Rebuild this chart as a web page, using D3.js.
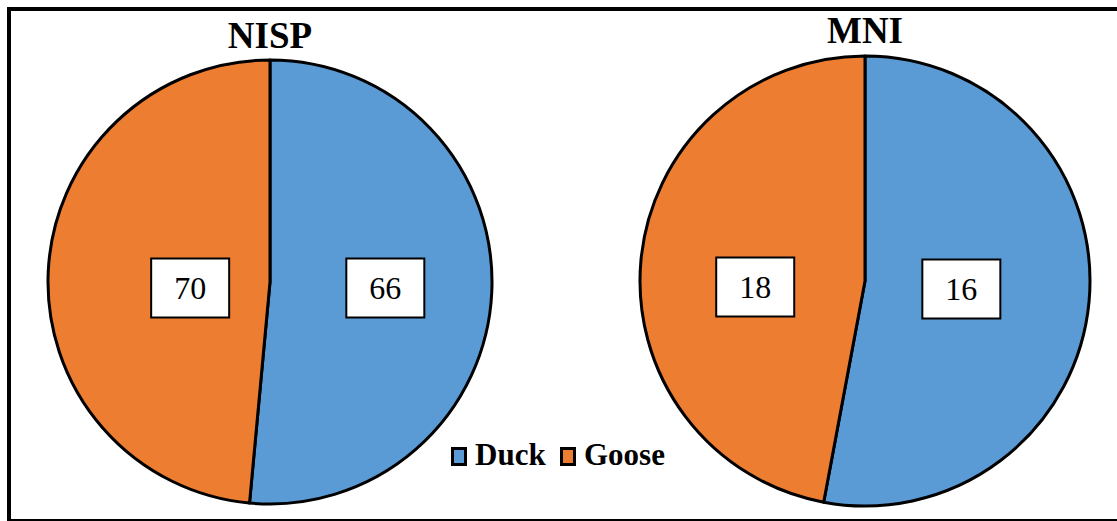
<!DOCTYPE html>
<html>
<head>
<meta charset="utf-8">
<script src="https://cdn.jsdelivr.net/npm/d3@7"></script>
<style>
  body { margin: 0; background: #fff; }
  svg { display: block; }
  svg text { font-family: "Liberation Serif", Tinos, "Times New Roman", Times, serif; }
</style>
</head>
<body>
<svg id="chart" width="1117" height="521"></svg>
<script>
// data
let species = ["Duck", "Goose"];
let nispValues = [66, 70];
let mniValues = [16, 18];
let chartTitles = ["NISP", "MNI"];

let colors = ["#5B9BD5", "#ED7D31"];

let svg = d3.select("#chart");

// outer frame (its bottom and right edges run off the picture)
svg.append("rect")
    .attr("x", 9).attr("y", 9)
    .attr("width", 1120).attr("height", 512)
    .attr("fill", "none")
    .attr("stroke", "#000")
    .attr("stroke-width", 4);

// layout of the two pies
let pies = [
    { title: chartTitles[0], values: nispValues, cx: 270, cy: 282, r: 222, titleY: 48, labelR: [0.52, 0.36], labelDy: [6, 6] },
    { title: chartTitles[1], values: mniValues, cx: 865, cy: 281, r: 225, titleY: 43, labelR: [0.43, 0.49], labelDy: [8, 6] }
];

pies.forEach(function(p) {
    // the source slices are sized by the other species' count (labels look swapped in the original)
    let pie = d3.pie()
        .sort(null)
        .value(function(d, i) { return p.values[p.values.length - 1 - i]; });

    let arcs = pie(species);
    let arc = d3.arc().innerRadius(0).outerRadius(p.r);

    let g = svg.append("g")
        .attr("transform", "translate(" + p.cx + "," + p.cy + ")");

    g.selectAll("path")
        .data(arcs)
        .enter().append("path")
        .attr("d", arc)
        .attr("fill", function(d, i) { return colors[i]; })
        .attr("stroke", "#000")
        .attr("stroke-width", 3)
        .attr("stroke-linejoin", "round");

    // value labels in white boxes
    let labels = g.selectAll("g.lbl")
        .data(arcs)
        .enter().append("g")
        .attr("class", "lbl")
        .attr("transform", function(d, i) {
            let a = (d.startAngle + d.endAngle) / 2;
            let rr = p.r * p.labelR[i];
            return "translate(" + (Math.sin(a) * rr) + "," + p.labelDy[i] + ")";
        });

    labels.append("rect")
        .attr("x", -39).attr("y", -29.5)
        .attr("width", 78).attr("height", 59)
        .attr("fill", "#fff")
        .attr("stroke", "#000")
        .attr("stroke-width", 2);

    labels.append("text")
        .attr("text-anchor", "middle")
        .attr("dy", "0.35em")
        .style("font-size", "32px")
        .text(function(d, i) { return p.values[i]; });

    svg.append("text")
        .attr("x", p.cx)
        .attr("y", p.titleY)
        .attr("text-anchor", "middle")
        .style("font-size", "37px")
        .style("font-weight", "bold")
        .text(p.title);
});

// legend
let legendX = [451, 560];
let legend = svg.append("g");
species.forEach(function(s, i) {
    legend.append("rect")
        .attr("x", legendX[i] + 1.5).attr("y", 448.5)
        .attr("width", 13).attr("height", 16)
        .attr("fill", colors[i])
        .attr("stroke", "#000")
        .attr("stroke-width", 3);
    legend.append("text")
        .attr("x", legendX[i] + 24)
        .attr("y", 465)
        .style("font-size", "31px")
        .style("font-weight", "bold")
        .text(s);
});
</script>
</body>
</html>
